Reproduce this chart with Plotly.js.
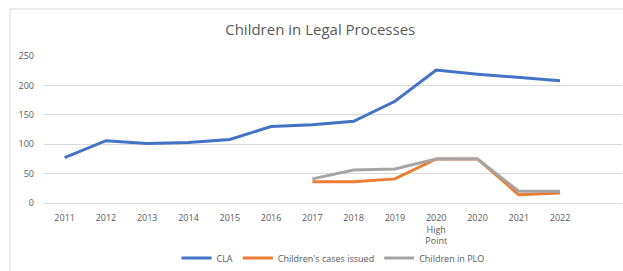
<!DOCTYPE html>
<html>
<head>
<meta charset="utf-8">
<script src="https://cdn.plot.ly/plotly-3.0.1.min.js"></script>
<style>
html,body{margin:0;padding:0;background:#fff;}
#chart{width:623px;height:271px;}
</style>
</head>
<body>
<div id="chart"></div>
<script>
const categories = ['2011','2012','2013','2014','2015','2016','2017','2018','2019','2020<br>High<br>Point','2020','2021','2022'];
const claValues = [77, 106, 101, 103, 108, 130, 133, 139, 173, 226, 219, 213, 208];
const casesIssued = [null, null, null, null, null, null, 36, 36, 41, 75, 75, 14, 17];
const childrenPLO = [null, null, null, null, null, null, 41, 56, 58, 75, 75, 20, 20];
const seriesNames = ['CLA', "Children's cases issued", 'Children in PLO'];

const xIdx = categories.map((_, i) => i);
const font = 'Open Sans, sans-serif';
const gray = '#595959';

const traces = [
  {x: xIdx, y: claValues, name: seriesNames[0], type: 'scatter', mode: 'lines',
   line: {color: '#4472C4', width: 3}},
  {x: xIdx, y: casesIssued, name: seriesNames[1], type: 'scatter', mode: 'lines',
   line: {color: '#ED7D31', width: 3}},
  {x: xIdx, y: childrenPLO, name: seriesNames[2], type: 'scatter', mode: 'lines',
   line: {color: '#A5A5A5', width: 3}}
];

const layout = {
  width: 623, height: 271,
  paper_bgcolor: '#fff', plot_bgcolor: '#fff',
  margin: {l: 44, r: 1, t: 56, b: 68, autoexpand: false},
  title: {text: 'Children in Legal Processes', x: 0.514, xanchor: 'center', y: 0.89, yanchor: 'middle',
          font: {family: font, size: 15, color: gray}},
  xaxis: {
    range: [-0.5, 13.5], tickvals: xIdx, ticktext: categories,
    showgrid: false, zeroline: false, showline: false, ticks: '',
    tickfont: {family: font, size: 9, color: gray}, tickangle: 0,
    ticklabelstandoff: 8, fixedrange: true
  },
  yaxis: {
    range: [0, 250], tickvals: [0, 50, 100, 150, 200, 250],
    showgrid: true, gridcolor: '#D9D9D9', gridwidth: 1,
    zeroline: true, zerolinecolor: '#D9D9D9', zerolinewidth: 1,
    showline: false, ticks: '',
    tickfont: {family: font, size: 9, color: gray},
    ticklabelstandoff: 9, fixedrange: true
  },
  showlegend: true,
  legend: {orientation: 'h', x: 0.5, xanchor: 'center', yref: 'container', y: 0.048, yanchor: 'middle',
           font: {family: font, size: 9, color: gray}, itemwidth: 30, bgcolor: 'rgba(0,0,0,0)'},
  shapes: [{type: 'rect', xref: 'paper', yref: 'paper',
            x0: (10 - 44) / 578, x1: 1.2, y0: -1, y1: (203 - 9) / 147,
            line: {color: '#D9D9D9', width: 1}, fillcolor: 'rgba(0,0,0,0)', layer: 'below'}],
  hovermode: false
};

Plotly.newPlot('chart', traces, layout, {displayModeBar: false, staticPlot: true});
</script>
</body>
</html>
